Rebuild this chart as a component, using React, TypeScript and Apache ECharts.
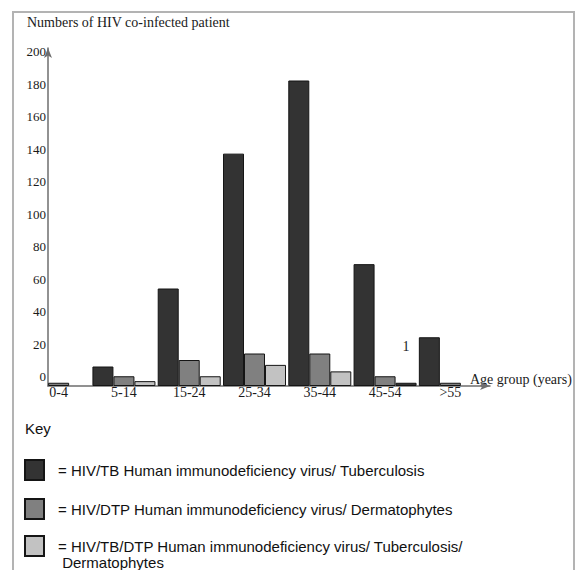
import React, { useEffect, useRef } from "react";
import * as echarts from "echarts";

const categories = ["0-4", "5-14", "15-24", "25-34", "35-44", "45-54", ">55"];
const hivTb = [0, 12, 60, 143, 188, 75, 30];
const hivDtp = [2, 6, 16, 20, 20, 6, 2];
const hivTbDtp = [0, 3, 6, 13, 9, 2, 0];
const yTicks = [0, 20, 40, 60, 80, 100, 120, 140, 160, 180, 200];

const seriesNames = [
  "HIV/TB Human immunodeficiency virus/ Tuberculosis",
  "HIV/DTP Human immunodeficiency virus/ Dermatophytes",
  "HIV/TB/DTP Human immunodeficiency virus/ Tuberculosis/ Dermatophytes",
];
const legendLabels = [
  "= HIV/TB Human immunodeficiency virus/ Tuberculosis",
  "= HIV/DTP Human immunodeficiency virus/ Dermatophytes",
  "\n= HIV/TB/DTP Human immunodeficiency virus/ Tuberculosis/\n Dermatophytes",
];
const seriesColors = ["#333333", "#808080", "#c2c2c2"];
const annotatedIndex = 5; // 45-54 third bar, drawn dark with a "1" label
const annotationText = "1";

const yTitle = "Numbers of HIV co-infected patient";
const xTitle = "Age group (years)";
const keyTitle = "Key";

const SERIF = "'Liberation Serif', 'Times New Roman', serif";
const SANS = "'Liberation Sans', Arial, sans-serif";

export default function App() {
  const ref = useRef<HTMLDivElement>(null);

  useEffect(() => {
    if (!ref.current) return;
    const chart = echarts.init(ref.current, undefined, { renderer: "svg" });

    const toData = (arr: number[]) => arr.map((v) => (v === 0 ? null : v));
    const barBase = (i: number) => ({
      name: seriesNames[i],
      type: "bar",
      xAxisIndex: 1,
      yAxisIndex: 1,
      barWidth: 21,
      barGap: "0%",
      itemStyle: { color: seriesColors[i], borderColor: "#151515", borderWidth: 1 },
    });

    const lightData: any[] = toData(hivTbDtp).map((v, i) =>
      i === annotatedIndex
        ? {
            value: v,
            itemStyle: { color: seriesColors[0] },
            label: {
              show: true,
              position: "top",
              distance: 29,
              formatter: annotationText,
              fontFamily: SERIF,
              fontSize: 14,
              color: "#1a1a1a",
            },
          }
        : v
    );

    const legendText = {
      fontFamily: SANS,
      fontSize: 15,
      color: "#111",
      padding: [0, 0, 0, 9],
    };

    chart.setOption({
      animation: false,
      backgroundColor: "#ffffff",
      title: [
        {
          text: yTitle,
          left: 27,
          top: 15,
          padding: 0,
          textStyle: { fontFamily: SERIF, fontSize: 14, fontWeight: "normal", color: "#1a1a1a" },
        },
        {
          text: keyTitle,
          left: 25,
          top: 421,
          padding: 0,
          textStyle: { fontFamily: SANS, fontSize: 15, fontWeight: "normal", color: "#111" },
        },
      ],
      legend: [
        {
          data: [seriesNames[0], seriesNames[1]],
          orient: "vertical",
          left: 24,
          top: 459,
          padding: 0,
          itemWidth: 19,
          itemHeight: 20,
          itemGap: 17,
          icon: "rect",
          selectedMode: false,
          formatter: (n: string) => legendLabels[seriesNames.indexOf(n)],
          textStyle: { ...legendText, lineHeight: 17 },
        },
        {
          data: [seriesNames[2]],
          orient: "vertical",
          left: 24,
          top: 522,
          padding: 0,
          itemWidth: 19,
          itemHeight: 20,
          icon: "rect",
          selectedMode: false,
          formatter: (n: string) => legendLabels[seriesNames.indexOf(n)],
          textStyle: { ...legendText, lineHeight: 16 },
        },
      ],
      graphic: [
        {
          type: "rect",
          silent: true,
          z: -10,
          shape: { x: 13, y: 12, width: 561, height: 600 },
          style: { fill: "none", stroke: "#b3b3b3", lineWidth: 2 },
        },
      ],
      grid: [
        { left: 48, top: 48, width: 442, height: 338 },
        { left: 26, top: 48, width: 457, height: 338 },
      ],
      xAxis: [
        {
          type: "value",
          gridIndex: 0,
          min: 0,
          max: 1,
          axisLine: {
            show: true,
            onZero: false,
            symbol: ["none", "arrow"],
            symbolSize: [6, 10],
            lineStyle: { color: "#6e6e6e", width: 1.5 },
          },
          axisTick: { show: false },
          axisLabel: { show: false },
          splitLine: { show: false },
          name: xTitle,
          nameLocation: "end",
          nameGap: -20,
          nameTextStyle: {
            fontFamily: SERIF,
            fontSize: 14,
            color: "#1a1a1a",
            align: "left",
            verticalAlign: "bottom",
          },
        },
        {
          type: "category",
          gridIndex: 1,
          data: categories,
          axisLine: { show: false },
          axisTick: { show: false },
          splitLine: { show: false },
          axisLabel: {
            interval: 0,
            margin: -1,
            fontFamily: SERIF,
            fontSize: 14,
            color: "#1a1a1a",
          },
        },
      ],
      yAxis: [
        {
          type: "value",
          gridIndex: 0,
          min: 0,
          max: 208,
          interval: 20,
          axisLine: {
            show: true,
            onZero: false,
            symbol: ["none", "arrow"],
            symbolSize: [6, 10],
            lineStyle: { color: "#6e6e6e", width: 1.5 },
          },
          axisTick: { show: false },
          splitLine: { show: false },
          axisLabel: {
            formatter: (v: number) => (yTicks.includes(v) ? String(v) : ""),
            margin: 2,
            verticalAlign: "bottom",
            padding: [0, 0, 3, 0],
            fontFamily: SERIF,
            fontSize: 13,
            color: "#1a1a1a",
          },
        },
        {
          type: "value",
          gridIndex: 1,
          min: 0,
          max: 208,
          show: false,
          splitLine: { show: false },
        },
      ],
      series: [
        { ...barBase(0), data: toData(hivTb) },
        { ...barBase(1), data: toData(hivDtp) },
        { ...barBase(2), data: lightData },
      ],
    });

    return () => chart.dispose();
  }, []);

  return (
    <div
      ref={ref}
      style={{ position: "absolute", left: 0, top: 0, width: 576, height: 570 }}
    />
  );
}
